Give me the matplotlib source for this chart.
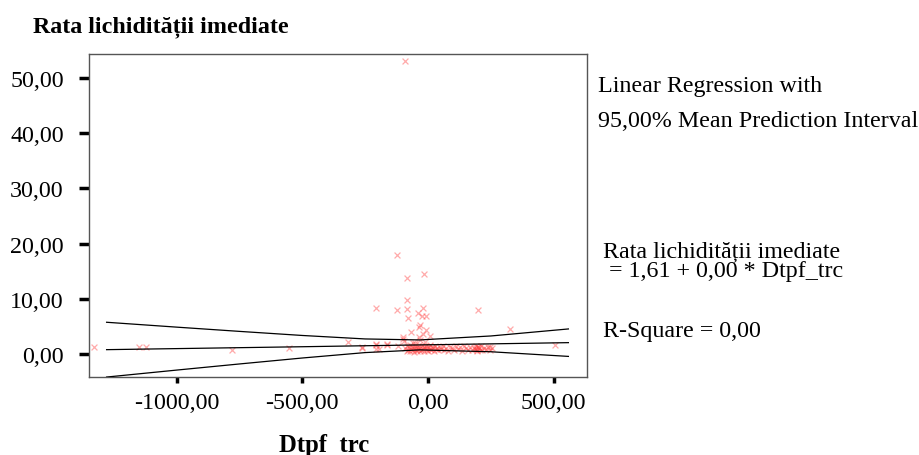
import matplotlib
matplotlib.use('Agg')
import matplotlib.pyplot as plt

# --- datos ---
# puntos dispersos (Dtpf_trc, Rata lichiditatii imediate)
pts_x = [-91, -125, -84, -16, -84, -208, -125, -84, -21, -41, 198, -80, -24, -8,
         -32, -36, -9, -69, -21, -98, -37, 7, -98, -261, -208, -164, -208, -118,
         -1327, -1148, -1121, -778, -552, -318, -262, -208, -194, -164, 327, 505, 247,
         -90, -85, -82, -78, -75, -72, -70, -66, -63, -60, -57, -55, -52, -49, -46,
         -44, -41, -38, -35, -33, -30, -27, -24, -21, -18, -15, -12, -9, -6, -3,
         0, 3, 6, 9, 12, 15, 18, 22, 26, 30, 35, 40, 46, 52, 58, 64, 70, 78, 86,
         94, 102, 110, 118, 126, 134, 142, 150, 158, 166, 174, 182, 188, 192, 196,
         200, 204, 208, 212, 216, 222, 230, 238, 246, 254,
         -95, -60, -30, -12, -50, 190, 195, 200]
pts_y = [53.1, 18.0, 13.7, 14.4, 9.8, 8.4, 7.9, 8.2, 8.4, 7.4, 7.9, 6.6, 6.8, 6.8,
         5.3, 4.8, 4.4, 3.9, 3.6, 3.1, 3.1, 3.2, 2.7, 1.2, 1.8, 1.6, 0.9, 1.5,
         1.2, 1.2, 1.2, 0.8, 1.1, 2.2, 1.1, 1.7, 0.9, 1.8, 4.5, 1.6, 1.3,
         1.0, 0.6, 1.4, 0.8, 1.2, 0.5, 1.7, 0.9, 1.3, 0.7, 1.1, 0.4, 1.5, 0.8, 1.0,
         0.6, 1.3, 0.9, 1.6, 0.5, 1.1, 0.7, 1.4, 0.9, 1.2, 0.6, 1.0, 1.5, 0.8, 1.1,
         0.5, 1.3, 0.9, 1.7, 0.7, 1.2, 1.0, 0.6, 1.4, 0.9, 1.1, 0.7, 1.3, 0.9, 1.5,
         0.8, 1.1, 0.6, 1.3, 1.0, 0.7, 1.4, 0.9, 1.2, 0.6, 1.5, 1.0, 0.8, 1.3, 0.7,
         1.1, 0.9, 1.4, 0.6, 1.2, 1.0, 0.8, 1.5, 0.7, 1.1, 0.9, 1.3, 0.8, 1.0,
         2.4, 2.0, 2.6, 2.1, 1.9, 1.0, 0.7, 1.2]

# dreapta de regresie si intervalul de predictie al mediei 95%
band_x = [-1278, -1000, -750, -500, -250, -33, 250, 558]
fit_y = [0.78, 0.97, 1.14, 1.31, 1.49, 1.64, 1.83, 2.05]
upper_y = [5.74, 4.86, 4.09, 3.35, 2.72, 2.54, 3.26, 4.53]
lower_y = [-4.18, -2.92, -1.81, -0.73, 0.25, 0.74, 0.40, -0.44]

x_ticks = [-1000, -500, 0, 500]
y_ticks = [0, 10, 20, 30, 40, 50]

W, H = 919, 456
plt.rcParams['font.family'] = ['Liberation Serif', 'DejaVu Serif']
FS = 17.3

fig = plt.figure(figsize=(W / 100, H / 100), dpi=100)
ax = fig.add_axes([89 / W, 1 - 378 / H, (587 - 89) / W, (378 - 54.5) / H])

ax.scatter(pts_x, pts_y, marker='x', s=18, color='#ff4444', alpha=0.45, linewidths=0.9, zorder=2)
ax.plot(band_x, fit_y, color='black', lw=0.9, zorder=3)
ax.plot(band_x, upper_y, color='black', lw=0.9, zorder=3)
ax.plot(band_x, lower_y, color='black', lw=0.9, zorder=3)

ax.set_xlim(-1348, 632)
ax.set_ylim(-4.17, 54.4)
ax.set_xticks(x_ticks)
ax.set_yticks(y_ticks)
ax.set_xticklabels([f"{v:.2f}".replace('.', ',') for v in x_ticks])
ax.set_yticklabels([f"{v:.2f}".replace('.', ',') for v in y_ticks])
ax.tick_params(axis='y', length=7.2, width=2.5, labelsize=FS, pad=11)
ax.tick_params(axis='x', length=4.5, width=2.5, labelsize=FS, pad=6)
for s in ax.spines.values():
    s.set_color('#555555')
    s.set_linewidth(1.0)

def ftext(x, y, s, **kw):
    fig.text(x / W, 1 - y / H, s, va='baseline', **kw)

ftext(33, 32, "Rata lichidității imediate", fontsize=FS, fontweight='bold')
ftext(324, 452, "Dtpf  trc", fontsize=FS + 0.5, fontweight='bold', ha='center')
ftext(598, 92, "Linear Regression with", fontsize=FS)
ftext(598, 127, "95,00% Mean Prediction Interval", fontsize=FS)
ftext(603, 257, "Rata lichidității imediate", fontsize=FS)
ftext(603, 277, " = 1,61 + 0,00 * Dtpf_trc", fontsize=FS)
ftext(603, 337, "R-Square = 0,00", fontsize=FS)

fig.savefig('out.png', dpi=100)
